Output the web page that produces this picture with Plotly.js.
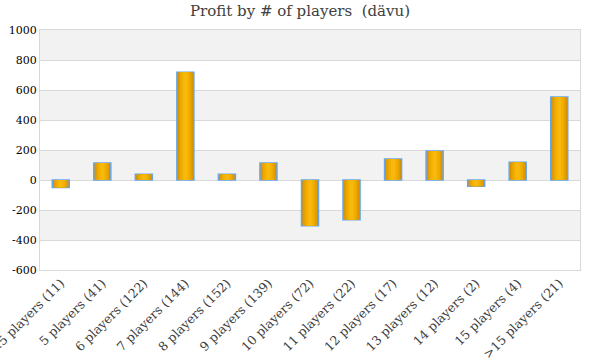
<!DOCTYPE html>
<html>
<head>
<meta charset="utf-8">
<script src="https://cdn.plot.ly/plotly-3.0.1.min.js"></script>
<style>html,body{margin:0;padding:0;background:#fff;}#chart{width:600px;height:360px;}</style>
</head>
<body>
<div id="chart"></div>
<script>
var categories = ["<5 players (11)", "5 players (41)", "6 players (122)", "7 players (144)", "8 players (152)", "9 players (139)", "10 players (72)", "11 players (22)", "12 players (17)", "13 players (12)", "14 players (2)", "15 players (4)", ">15 players (21)"];
var profit = [-50, 113, 38, 718, 38, 113, -305, -265, 140, 193, -42, 118, 553];
var yTicks = [-600, -400, -200, 0, 200, 400, 600, 800, 1000];

// layered bars to imitate the horizontal gradient fill
var layers = [
  {w: 0.41, c: "#d68c00", line: {color: "#69a6e6", width: 1.5}},
  {w: 0.34, c: "#e29b00", line: {width: 0}},
  {w: 0.26, c: "#eca800", line: {width: 0}},
  {w: 0.18, c: "#f3b100", line: {width: 0}},
  {w: 0.09, c: "#f8b90d", line: {width: 0}}
];
var traces = layers.map(function (L) {
  return {
    type: "bar", x: categories, y: profit, width: L.w,
    marker: {color: L.c, line: L.line},
    hoverinfo: "x+y", showlegend: false
  };
});

// alternating grey bands between gridlines
var shapes = [];
for (var i = 0; i < yTicks.length - 1; i++) {
  if ((yTicks.length - 2 - i) % 2 === 0) {
    shapes.push({type: "rect", xref: "paper", yref: "y", x0: 0, x1: 1,
      y0: yTicks[i], y1: yTicks[i + 1], fillcolor: "#f2f2f2", line: {width: 0}, layer: "below"});
  }
}

var layout = {
  width: 600, height: 360,
  margin: {l: 40, r: 20, t: 30, b: 90},
  paper_bgcolor: "#ffffff", plot_bgcolor: "#ffffff",
  barmode: "overlay",
  title: {text: "Profit by # of players  (dävu)", x: 0.5, xanchor: "center", y: 0.985, yanchor: "top",
    font: {family: "DejaVu Serif", size: 15, color: "#404040"}},
  xaxis: {
    tickangle: -45, automargin: false,
    tickfont: {family: "DejaVu Serif", size: 12.5, color: "#404040"},
    showline: true, linecolor: "#d9d9d9", linewidth: 1, mirror: true,
    showgrid: false, ticks: "", fixedrange: true
  },
  yaxis: {
    range: [-600, 1000], tickvals: yTicks, ticktext: yTicks.map(String),
    automargin: false,
    tickfont: {family: "DejaVu Serif", size: 11, color: "#000000"},
    showline: true, linecolor: "#d9d9d9", linewidth: 1, mirror: true,
    showgrid: true, gridcolor: "#d9d9d9", gridwidth: 1,
    zeroline: true, zerolinecolor: "#d9d9d9", zerolinewidth: 1,
    ticks: "", ticklen: 0, fixedrange: true
  },
  shapes: shapes,
  font: {family: "DejaVu Serif"}
};

Plotly.newPlot("chart", traces, layout, {displayModeBar: false, staticPlot: true});
</script>
</body>
</html>
